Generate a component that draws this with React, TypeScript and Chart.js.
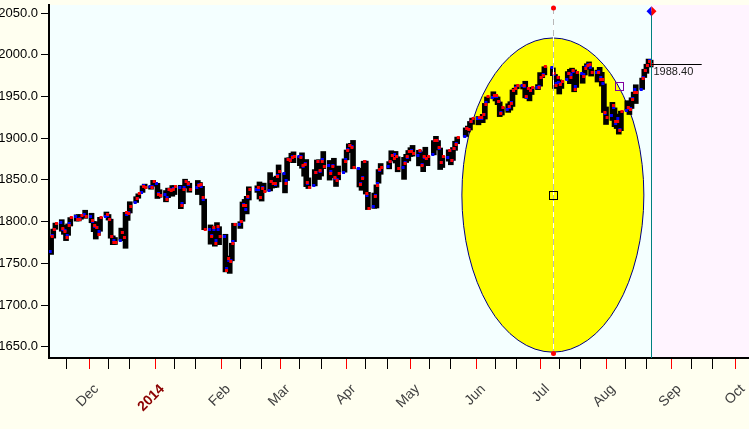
import React, { useEffect, useRef } from 'react';
import { Chart, registerables } from 'chart.js';

Chart.register(...registerables);

// ---- trading days (S&P 500 daily bars) ----
const tradeDates = [
  '2013-11-13','2013-11-14','2013-11-15','2013-11-18','2013-11-19','2013-11-20','2013-11-21','2013-11-22','2013-11-25','2013-11-26','2013-11-27','2013-11-29',
  '2013-12-02','2013-12-03','2013-12-04','2013-12-05','2013-12-06','2013-12-09','2013-12-10','2013-12-11','2013-12-12','2013-12-13','2013-12-16','2013-12-17','2013-12-18','2013-12-19','2013-12-20','2013-12-23','2013-12-24','2013-12-26','2013-12-27','2013-12-30','2013-12-31',
  '2014-01-02','2014-01-03','2014-01-06','2014-01-07','2014-01-08','2014-01-09','2014-01-10','2014-01-13','2014-01-14','2014-01-15','2014-01-16','2014-01-17','2014-01-21','2014-01-22','2014-01-23','2014-01-24','2014-01-27','2014-01-28','2014-01-29','2014-01-30','2014-01-31',
  '2014-02-03','2014-02-04','2014-02-05','2014-02-06','2014-02-07','2014-02-10','2014-02-11','2014-02-12','2014-02-13','2014-02-14','2014-02-18','2014-02-19','2014-02-20','2014-02-21','2014-02-24','2014-02-25','2014-02-26','2014-02-27','2014-02-28',
  '2014-03-03','2014-03-04','2014-03-05','2014-03-06','2014-03-07','2014-03-10','2014-03-11','2014-03-12','2014-03-13','2014-03-14','2014-03-17','2014-03-18','2014-03-19','2014-03-20','2014-03-21','2014-03-24','2014-03-25','2014-03-26','2014-03-27','2014-03-28','2014-03-31',
  '2014-04-01','2014-04-02','2014-04-03','2014-04-04','2014-04-07','2014-04-08','2014-04-09','2014-04-10','2014-04-11','2014-04-14','2014-04-15','2014-04-16','2014-04-17','2014-04-21','2014-04-22','2014-04-23','2014-04-24','2014-04-25','2014-04-28','2014-04-29','2014-04-30',
  '2014-05-01','2014-05-02','2014-05-05','2014-05-06','2014-05-07','2014-05-08','2014-05-09','2014-05-12','2014-05-13','2014-05-14','2014-05-15','2014-05-16','2014-05-19','2014-05-20','2014-05-21','2014-05-22','2014-05-23','2014-05-27','2014-05-28','2014-05-29','2014-05-30',
  '2014-06-02','2014-06-03','2014-06-04','2014-06-05','2014-06-06','2014-06-09','2014-06-10','2014-06-11','2014-06-12','2014-06-13','2014-06-16','2014-06-17','2014-06-18','2014-06-19','2014-06-20','2014-06-23','2014-06-24','2014-06-25','2014-06-26','2014-06-27','2014-06-30',
  '2014-07-01','2014-07-02','2014-07-03','2014-07-07','2014-07-08','2014-07-09','2014-07-10','2014-07-11','2014-07-14','2014-07-15','2014-07-16','2014-07-17','2014-07-18','2014-07-21','2014-07-22','2014-07-23','2014-07-24','2014-07-25','2014-07-28','2014-07-29','2014-07-30','2014-07-31',
  '2014-08-01','2014-08-04','2014-08-05','2014-08-06','2014-08-07','2014-08-08','2014-08-11','2014-08-12','2014-08-13','2014-08-14','2014-08-15','2014-08-18','2014-08-19','2014-08-20','2014-08-21','2014-08-22',
];

const opens = [
  1764.4,1782.8,1790.7,1798.8,1790.8,1789.6,1783.5,1797.2,1806.3,1802.9,1803.5,1808.0,
  1806.6,1800.1,1794.1,1792.8,1788.4,1806.2,1807.6,1802.8,1781.7,1777.0,1777.5,1786.5,1781.5,1809.0,1810.4,1822.9,1828.0,1835.0,1843.0,1841.5,1842.6,
  1845.9,1833.2,1832.3,1828.7,1837.9,1839.0,1840.1,1841.3,1821.4,1840.5,1848.0,1844.2,1841.1,1844.7,1842.3,1827.0,1791.0,1783.0,1790.2,1777.2,1790.9,
  1782.7,1743.8,1753.4,1753.0,1776.0,1796.2,1800.5,1820.1,1814.8,1828.5,1839.0,1838.9,1829.2,1841.1,1836.8,1847.7,1845.8,1844.9,1855.1,
  1857.7,1849.2,1874.1,1874.2,1878.5,1877.9,1878.3,1866.2,1869.1,1845.1,1842.8,1858.9,1872.3,1860.1,1874.5,1867.7,1859.5,1867.1,1852.1,1850.1,1859.2,
  1874.0,1886.6,1891.4,1890.3,1863.9,1845.5,1852.6,1872.3,1830.7,1818.2,1831.4,1846.0,1861.7,1865.8,1872.6,1879.3,1881.0,1877.7,1865.0,1870.8,1877.1,
  1884.4,1885.3,1879.5,1883.7,1868.5,1877.4,1875.3,1880.0,1896.8,1897.1,1888.2,1871.2,1876.7,1884.9,1873.3,1888.2,1893.3,1902.0,1911.8,1910.6,1920.3,
  1923.9,1923.1,1923.1,1928.5,1942.4,1949.0,1950.3,1949.4,1943.4,1930.8,1934.8,1937.2,1942.7,1957.5,1960.5,1962.9,1962.0,1949.3,1959.9,1956.6,1960.8,
  1962.3,1973.1,1975.9,1984.2,1976.4,1965.1,1966.7,1965.8,1969.9,1977.4,1976.4,1979.8,1961.5,1976.9,1975.7,1985.3,1988.1,1984.6,1978.3,1980.0,1973.2,1965.1,
  1929.8,1926.6,1936.3,1917.3,1923.0,1910.4,1933.4,1935.7,1935.6,1947.4,1958.9,1958.4,1972.7,1980.5,1986.8,1992.6,
];

const highs = [
  1782.0,1791.0,1798.2,1802.3,1795.5,1795.7,1797.2,1804.8,1808.1,1808.4,1808.3,1813.6,
  1810.0,1800.1,1799.8,1792.8,1805.1,1811.5,1808.5,1802.9,1782.9,1780.9,1792.2,1786.8,1811.1,1810.9,1823.8,1829.8,1833.3,1842.8,1844.9,1842.5,1849.4,
  1845.9,1838.2,1837.2,1840.1,1840.0,1843.2,1843.0,1843.5,1839.3,1850.8,1848.0,1846.0,1849.3,1846.9,1842.3,1827.0,1796.0,1793.9,1790.2,1798.8,1793.9,
  1784.8,1758.7,1755.8,1774.1,1798.0,1799.9,1823.5,1826.6,1830.3,1841.7,1842.9,1847.5,1842.1,1846.1,1858.7,1852.9,1852.7,1854.5,1867.9,
  1857.7,1876.2,1876.5,1881.9,1883.6,1877.9,1882.4,1868.4,1874.4,1852.4,1862.3,1873.8,1874.1,1873.5,1884.0,1873.3,1871.9,1875.9,1855.6,1866.6,1875.2,
  1885.8,1893.2,1893.8,1897.3,1864.0,1855.0,1872.4,1872.5,1835.1,1834.2,1844.0,1862.3,1869.6,1871.9,1884.9,1879.8,1884.1,1877.7,1877.0,1880.6,1885.2,
  1888.6,1891.3,1885.5,1883.7,1878.8,1889.1,1878.6,1897.1,1902.2,1897.1,1888.2,1878.3,1886.0,1884.9,1888.8,1896.3,1901.3,1912.3,1914.5,1920.0,1924.0,
  1925.9,1925.1,1928.6,1941.7,1949.4,1955.6,1950.9,1949.4,1943.4,1937.3,1941.2,1943.7,1957.7,1959.9,1963.9,1963.7,1968.2,1960.8,1959.9,1961.0,1964.2,
  1978.6,1976.7,1985.6,1984.2,1976.4,1974.2,1969.8,1968.7,1979.8,1982.5,1983.9,1981.8,1979.9,1976.9,1986.2,1989.2,1991.4,1984.6,1981.5,1984.9,1978.9,1965.1,
  1937.4,1942.9,1936.3,1927.9,1928.9,1932.4,1944.9,1939.7,1948.4,1955.2,1964.0,1972.0,1982.6,1988.6,1994.8,1993.5,
];

const lows = [
  1760.6,1780.2,1790.7,1788.4,1784.7,1777.2,1783.5,1794.7,1800.6,1800.8,1802.8,1803.9,
  1798.6,1787.9,1779.1,1783.4,1788.4,1806.2,1801.8,1780.1,1772.3,1772.5,1777.5,1777.2,1768.0,1801.4,1810.3,1822.9,1828.0,1835.0,1839.8,1838.8,1842.4,
  1827.7,1829.1,1823.7,1828.7,1831.4,1830.4,1832.4,1815.5,1821.4,1840.5,1840.3,1835.2,1832.4,1840.9,1820.1,1790.3,1772.9,1783.0,1770.5,1777.2,1772.3,
  1739.7,1743.8,1737.9,1753.0,1776.0,1791.8,1800.4,1816.0,1809.2,1825.9,1835.0,1827.0,1824.6,1835.6,1836.8,1840.2,1840.7,1841.1,1847.7,
  1834.4,1849.2,1871.1,1874.2,1870.6,1867.0,1863.9,1854.4,1841.9,1839.6,1842.8,1858.9,1850.4,1854.6,1863.5,1849.7,1856.0,1852.6,1842.1,1850.1,1859.2,
  1874.0,1883.8,1882.7,1863.3,1841.5,1837.5,1852.4,1833.0,1814.4,1815.8,1816.3,1846.0,1856.7,1863.2,1872.6,1873.9,1870.2,1859.7,1850.6,1870.8,1872.7,
  1878.0,1878.5,1866.8,1867.7,1859.8,1870.1,1867.0,1880.0,1896.1,1885.8,1862.4,1864.8,1872.4,1868.1,1873.3,1885.4,1893.3,1902.0,1907.3,1909.8,1916.6,
  1916.0,1918.8,1918.6,1922.9,1942.4,1947.2,1944.6,1940.1,1925.8,1927.7,1930.9,1933.6,1938.0,1952.3,1959.2,1958.9,1948.3,1947.5,1944.7,1952.3,1958.2,
  1962.3,1972.6,1975.9,1974.9,1959.5,1965.1,1952.9,1959.6,1969.9,1965.3,1975.7,1955.6,1960.8,1965.8,1975.7,1982.4,1985.8,1974.4,1967.3,1970.0,1962.4,1930.7,
  1916.4,1921.2,1913.8,1911.5,1904.8,1909.0,1933.4,1928.3,1935.6,1947.4,1941.5,1958.4,1972.7,1977.7,1986.8,1985.3,
];

const closes = [
  1782.0,1790.6,1798.2,1791.5,1787.9,1781.4,1795.9,1804.8,1802.5,1802.8,1807.2,1805.8,
  1800.9,1795.2,1792.8,1785.0,1805.1,1808.4,1802.6,1782.2,1775.5,1775.3,1786.5,1781.0,1810.7,1809.6,1818.3,1828.0,1833.3,1842.0,1841.4,1841.1,1848.4,
  1832.0,1831.4,1826.8,1837.9,1837.5,1838.1,1842.4,1819.2,1838.9,1848.4,1845.9,1838.7,1843.8,1844.9,1828.5,1790.3,1781.6,1792.5,1774.2,1794.2,1782.6,
  1741.9,1755.2,1751.6,1773.4,1797.0,1799.8,1819.3,1819.3,1829.8,1838.6,1840.8,1828.8,1839.8,1836.3,1847.6,1845.1,1845.2,1854.3,1859.5,
  1845.7,1873.9,1873.8,1877.0,1878.0,1877.2,1867.6,1868.2,1846.3,1841.1,1858.8,1872.3,1860.8,1872.0,1866.5,1857.4,1865.6,1852.6,1849.0,1857.6,1872.3,
  1885.5,1890.9,1888.8,1865.1,1845.0,1852.0,1872.2,1833.1,1815.7,1830.6,1843.0,1862.3,1864.9,1871.9,1879.6,1875.4,1878.6,1863.4,1869.4,1878.3,1884.0,
  1883.7,1881.1,1884.7,1867.7,1878.2,1875.6,1878.5,1896.7,1897.5,1888.5,1870.9,1878.0,1885.1,1872.8,1888.0,1892.5,1900.5,1911.9,1909.8,1920.0,1923.6,
  1925.0,1924.2,1927.9,1940.5,1949.4,1951.3,1950.8,1943.9,1930.1,1936.2,1937.8,1942.0,1957.0,1959.5,1962.9,1962.6,1950.0,1959.5,1957.2,1961.0,1960.2,
  1973.3,1974.6,1985.4,1977.7,1963.7,1972.8,1964.7,1967.6,1977.1,1973.3,1981.6,1958.1,1978.2,1973.6,1983.5,1987.0,1988.0,1978.3,1978.9,1970.0,1970.1,1930.7,
  1925.2,1939.0,1920.2,1920.2,1909.6,1931.6,1936.9,1933.8,1946.7,1955.2,1955.1,1971.7,1981.6,1986.5,1992.4,1988.4,
];

// ---- axes ----
const monthTickDates = ['2013-12-01','2014-01-01','2014-02-01','2014-03-01','2014-04-01','2014-05-01','2014-06-01','2014-07-01','2014-08-01','2014-09-01','2014-10-01'];
const monthTickLabels = ['Dec','2014','Feb','Mar','Apr','May','Jun','Jul','Aug','Sep','Oct'];
const minorTickDates = [
  '2013-11-20','2013-12-10','2013-12-20','2014-01-10','2014-01-20','2014-02-10','2014-02-20','2014-03-10','2014-03-20',
  '2014-04-10','2014-04-20','2014-05-10','2014-05-20','2014-06-10','2014-06-20','2014-07-10','2014-07-20',
  '2014-08-10','2014-08-20','2014-09-10','2014-09-20',
];
const yTickValues = [1650, 1700, 1750, 1800, 1850, 1900, 1950, 2000, 2050];
const xRangeStart = '2013-11-12';
const xRangeEnd = '2014-10-07';
const yRange = [1636.5, 2059.6];

// ---- drawing-tool annotations ----
const ellipseCenterDate = '2014-07-07';
const ellipseCenterValue = 1831.8;
const ellipseHalfDays = 42.8;
const ellipseHalfValue = 188.3;
const cycleLineValues = [2056, 1642];
const handleDate = '2014-08-07';
const handleValue = 1962;
const lastBarDate = '2014-08-22';
const lastMarkerValue = 2052;
const lastPrice = 1988.4;
const priceLineEndDate = '2014-09-15';

const dayNum = (s: string) => {
  const [y, m, d] = s.split('-').map(Number);
  return Date.UTC(y, m - 1, d) / 86400000;
};

const monthTickDays = monthTickDates.map(dayNum);
const labelByDay = new Map<number, string>();
monthTickDays.forEach((d, i) => labelByDay.set(d, monthTickLabels[i]));
const allTickDays = [...monthTickDays, ...minorTickDates.map(dayNum)].sort((a, b) => a - b);

function makeSquare(color: string, offset: number) {
  const c = document.createElement('canvas');
  c.width = 7;
  c.height = 3;
  const g = c.getContext('2d')!;
  g.fillStyle = color;
  g.fillRect(2 + offset, 0, 3, 3);
  return c;
}

const annotationPlugin = {
  id: 'annot',
  beforeDraw(chart: any) {
    const { ctx, chartArea: a, scales } = chart;
    ctx.save();
    ctx.fillStyle = '#FFFFF0';
    ctx.fillRect(0, 0, chart.width, chart.height);
    ctx.fillStyle = '#F4FFFF';
    ctx.fillRect(a.left, a.top, a.right - a.left, a.bottom - a.top);
    const lx = Math.round(scales.x.getPixelForValue(dayNum(lastBarDate)));
    ctx.fillStyle = '#FFF4FF';
    ctx.fillRect(lx, a.top, a.right - lx, a.bottom - a.top);
    ctx.restore();
  },
  beforeDatasetsDraw(chart: any) {
    const { ctx, scales } = chart;
    const x = scales.x, y = scales.y;
    const cd = dayNum(ellipseCenterDate);
    const cx = x.getPixelForValue(cd);
    const cy = y.getPixelForValue(ellipseCenterValue);
    const rx = x.getPixelForValue(cd + ellipseHalfDays) - cx;
    const ry = y.getPixelForValue(ellipseCenterValue - ellipseHalfValue) - cy;
    ctx.save();
    ctx.beginPath();
    ctx.ellipse(cx, cy, rx, ry, 0, 0, Math.PI * 2);
    ctx.fillStyle = '#FFFF00';
    ctx.fill();
    ctx.lineWidth = 1;
    ctx.strokeStyle = '#000080';
    ctx.stroke();
    ctx.restore();
  },
  afterDatasetsDraw(chart: any) {
    const { ctx, chartArea: a, scales } = chart;
    const x = scales.x, y = scales.y;
    ctx.save();
    // cycle line through ellipse centre
    const cx = Math.round(x.getPixelForValue(dayNum(ellipseCenterDate))) + 0.5;
    const yTop = y.getPixelForValue(cycleLineValues[0]);
    const yBot = y.getPixelForValue(cycleLineValues[1]);
    ctx.lineWidth = 1;
    ctx.strokeStyle = '#FFFFFF';
    ctx.beginPath(); ctx.moveTo(cx, yTop); ctx.lineTo(cx, yBot); ctx.stroke();
    ctx.setLineDash([6, 5]);
    ctx.strokeStyle = '#B8B8B8';
    ctx.beginPath(); ctx.moveTo(cx, yTop); ctx.lineTo(cx, yBot); ctx.stroke();
    ctx.setLineDash([]);
    ctx.fillStyle = '#FF0000';
    [yTop, yBot].forEach((py) => {
      ctx.beginPath(); ctx.arc(cx, py, 2.5, 0, Math.PI * 2); ctx.fill();
    });
    // centre marker
    const cy = Math.round(y.getPixelForValue(ellipseCenterValue)) + 0.5;
    ctx.strokeStyle = '#000000';
    ctx.strokeRect(cx - 4, cy - 4, 8, 8);
    // handle on ellipse
    const hx = Math.round(x.getPixelForValue(dayNum(handleDate))) + 0.5;
    const hy = Math.round(y.getPixelForValue(handleValue)) + 0.5;
    ctx.strokeStyle = '#8000A0';
    ctx.strokeRect(hx - 4, hy - 4, 8, 8);
    // last bar vertical line
    const lx = Math.round(x.getPixelForValue(dayNum(lastBarDate))) + 0.5;
    const my = y.getPixelForValue(lastMarkerValue);
    ctx.strokeStyle = '#008080';
    ctx.beginPath(); ctx.moveTo(lx, my); ctx.lineTo(lx, a.bottom); ctx.stroke();
    // diamond marker
    ctx.fillStyle = '#0000FF';
    ctx.beginPath(); ctx.moveTo(lx, my - 5); ctx.lineTo(lx - 5, my); ctx.lineTo(lx, my + 5); ctx.closePath(); ctx.fill();
    ctx.fillStyle = '#FF0000';
    ctx.beginPath(); ctx.moveTo(lx, my - 5); ctx.lineTo(lx + 5, my); ctx.lineTo(lx, my + 5); ctx.closePath(); ctx.fill();
    // last price line + label
    const py = Math.round(y.getPixelForValue(lastPrice)) + 0.5;
    const ex = x.getPixelForValue(dayNum(priceLineEndDate));
    ctx.strokeStyle = '#000000';
    ctx.beginPath(); ctx.moveTo(lx, py); ctx.lineTo(ex, py); ctx.stroke();
    ctx.fillStyle = '#202020';
    ctx.font = '11px "Liberation Sans", Arial, sans-serif';
    ctx.textAlign = 'left';
    ctx.textBaseline = 'top';
    ctx.fillText(lastPrice.toFixed(2), lx + 2, py + 2);
    ctx.restore();
  },
};

export default function App() {
  const ref = useRef<HTMLCanvasElement>(null);
  useEffect(() => {
    if (!ref.current) return;
    const xs = tradeDates.map(dayNum);
    const openImg = makeSquare('#0000FF', -1);
    const closeImg = makeSquare('#FF0000', 1);
    const chart = new Chart(ref.current, {
      type: 'line',
      data: {
        datasets: [
          {
            type: 'line',
            data: xs.map((d, i) => ({ x: d, y: closes[i] })),
            showLine: false,
            pointStyle: closeImg as any,
            pointRadius: 3,
            order: 1,
          },
          {
            type: 'line',
            data: xs.map((d, i) => ({ x: d, y: opens[i] })),
            showLine: false,
            pointStyle: openImg as any,
            pointRadius: 3,
            order: 2,
          },
          {
            type: 'bar',
            data: xs.map((d, i) => ({ x: d, y: [lows[i], highs[i]] })) as any,
            backgroundColor: '#000000',
            borderWidth: 0,
            barThickness: 5,
            grouped: false,
            order: 3,
          } as any,
        ],
      },
      options: {
        animation: false,
        responsive: false,
        events: [],
        layout: { autoPadding: false, padding: { top: 5, left: 0, right: 0, bottom: 0 } },
        plugins: { legend: { display: false }, tooltip: { enabled: false } },
        scales: {
          x: {
            type: 'linear',
            offset: false,
            min: dayNum(xRangeStart),
            max: dayNum(xRangeEnd) + 0.25,
            afterBuildTicks: (s: any) => { s.ticks = allTickDays.map((v) => ({ value: v })); },
            afterFit: (s: any) => { s.height = 71; s.paddingLeft = 0; s.paddingRight = 0; },
            grid: {
              offset: false,
              drawOnChartArea: false,
              drawTicks: true,
              tickLength: 11,
              lineWidth: 1,
              color: (c: any) => (c.tick && labelByDay.has(c.tick.value) ? '#FF0000' : '#000000'),
            },
            border: { display: true, color: '#000000', width: 2 },
            ticks: {
              autoSkip: false,
              minRotation: 45,
              maxRotation: 45,
              padding: 12,
              labelOffset: 7,
              color: (c: any) => (c.tick && c.tick.label === '2014' ? '#8B0000' : '#404040'),
              font: (c: any) => ({
                family: '"Liberation Sans", Arial, sans-serif',
                size: 14,
                weight: c.tick && c.tick.label === '2014' ? 'bold' : 'normal',
              }),
              callback: (v: any) => labelByDay.get(Number(v)) || '',
            },
          },
          y: {
            type: 'linear',
            min: yRange[0],
            max: yRange[1],
            beginAtZero: false,
            afterBuildTicks: (s: any) => { s.ticks = yTickValues.map((v) => ({ value: v })); },
            afterFit: (s: any) => { s.width = 49; s.paddingTop = 0; s.paddingBottom = 0; },
            grid: { drawOnChartArea: false, drawTicks: true, tickLength: 8, color: '#000000' },
            border: { display: true, color: '#000000', width: 2 },
            ticks: {
              color: '#000000',
              padding: 3,
              font: { family: '"Liberation Sans", Arial, sans-serif', size: 13 },
              callback: (v: any) => Number(v).toFixed(1),
            },
          },
        },
      } as any,
      plugins: [annotationPlugin],
    });
    return () => chart.destroy();
  }, []);
  return (
    <div style={{ position: 'fixed', left: 0, top: 0, width: 749, height: 429, background: '#FFFFF0' }}>
      <canvas ref={ref} width={749} height={429} />
    </div>
  );
}
